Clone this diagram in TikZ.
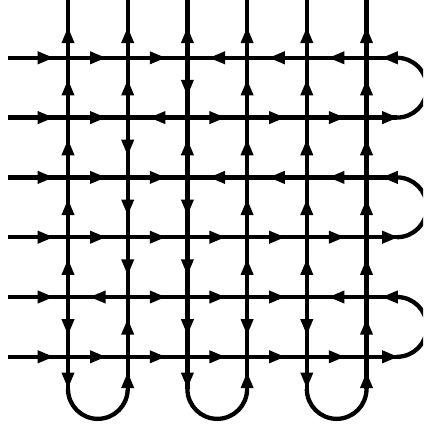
\documentclass[tikz,border=0pt]{standalone}
\usetikzlibrary{decorations.markings}
\tikzset{
  edge/.style={line width=4.3pt, line cap=butt},
  arrowat/.style={edge, postaction={decorate},
    decoration={markings, mark=at position #1 with {\fill (7.8pt,0pt) -- (-7.8pt,6.6pt) -- (-7.8pt,-6.6pt) -- cycle;}}},
  midarr/.style={arrowat=0.5},
}
\begin{document}
\begin{tikzpicture}[x=1pt,y=1pt]
\useasboundingbox (0,0) rectangle (423,-425);
\clip (0,0) rectangle (423,-425);
% named points
\foreach \i/\x in {1/68,2/127.7,3/187.4,4/247.1,5/306.8,6/366.5}{
  \foreach \j/\y in {1/57.8,2/117.6,3/177.4,4/237.2,5/297,6/356.8}{
    \coordinate (p-\i-\j) at (\x,-\y);
  }
  \coordinate (T-\i) at (\x,0);
  \coordinate (B-\i) at (\x,-389);
}
\foreach \j/\y in {1/57.8,2/117.6,3/177.4,4/237.2,5/297,6/356.8}{
  \coordinate (L-\j) at (8,-\y);
  \coordinate (R-\j) at (397,-\y);
}
% horizontal inner segments (1 = rightwards)
\foreach \j/\lst in {1/{1/1,2/1,3/0,4/0,5/0},2/{1/1,2/0,3/1,4/1,5/1},3/{1/1,2/1,3/0,4/0,5/0},4/{1/1,2/1,3/1,4/1,5/1},5/{1/0,2/1,3/1,4/1,5/0},6/{1/1,2/1,3/1,4/1,5/1}}{
  \foreach \k/\s in \lst {
    \pgfmathtruncatemacro\kk{\k+1}
    \ifnum\s=1 \draw[midarr] (p-\k-\j) -- (p-\kk-\j); \else \draw[midarr] (p-\kk-\j) -- (p-\k-\j); \fi
  }
}
% vertical inner segments (1 = upwards)
\foreach \i/\lst in {1/{1/1,2/1,3/1,4/1,5/0},2/{1/1,2/0,3/0,4/0,5/1},3/{1/0,2/1,3/0,4/0,5/0},4/{1/1,2/1,3/1,4/1,5/0},5/{1/1,2/1,3/1,4/1,5/0},6/{1/1,2/1,3/1,4/1,5/1}}{
  \foreach \k/\s in \lst {
    \pgfmathtruncatemacro\kk{\k+1}
    \ifnum\s=1 \draw[midarr] (p-\i-\kk) -- (p-\i-\k); \else \draw[midarr] (p-\i-\k) -- (p-\i-\kk); \fi
  }
}
% outer left and top segments
\foreach \j in {1,...,6}{ \draw[arrowat=-22.5pt] (L-\j) -- (p-1-\j); }
\foreach \i in {1,...,6}{ \draw[arrowat=22.5pt] (p-\i-1) -- (T-\i); }
% right stubs
\foreach \j in {1,3,5}{ \draw[arrowat=-23.5pt] (R-\j) -- (p-6-\j); }
\foreach \j in {2,4,6}{ \draw[arrowat=23.5pt] (p-6-\j) -- (R-\j); }
% bottom stubs
\foreach \i in {1,3,5}{ \draw[arrowat=23.5pt] (p-\i-6) -- (B-\i); }
\foreach \i in {2,4,6}{ \draw[arrowat=-23.5pt] (B-\i) -- (p-\i-6); }
% right arcs
\foreach \j in {1,3,5}{ \draw[edge] (R-\j) arc[start angle=90,end angle=-90,radius=29.9]; }
% bottom arcs
\foreach \i in {1,3,5}{ \draw[edge] (B-\i) arc[start angle=180,end angle=360,radius=29.85]; }
\end{tikzpicture}
\end{document}
